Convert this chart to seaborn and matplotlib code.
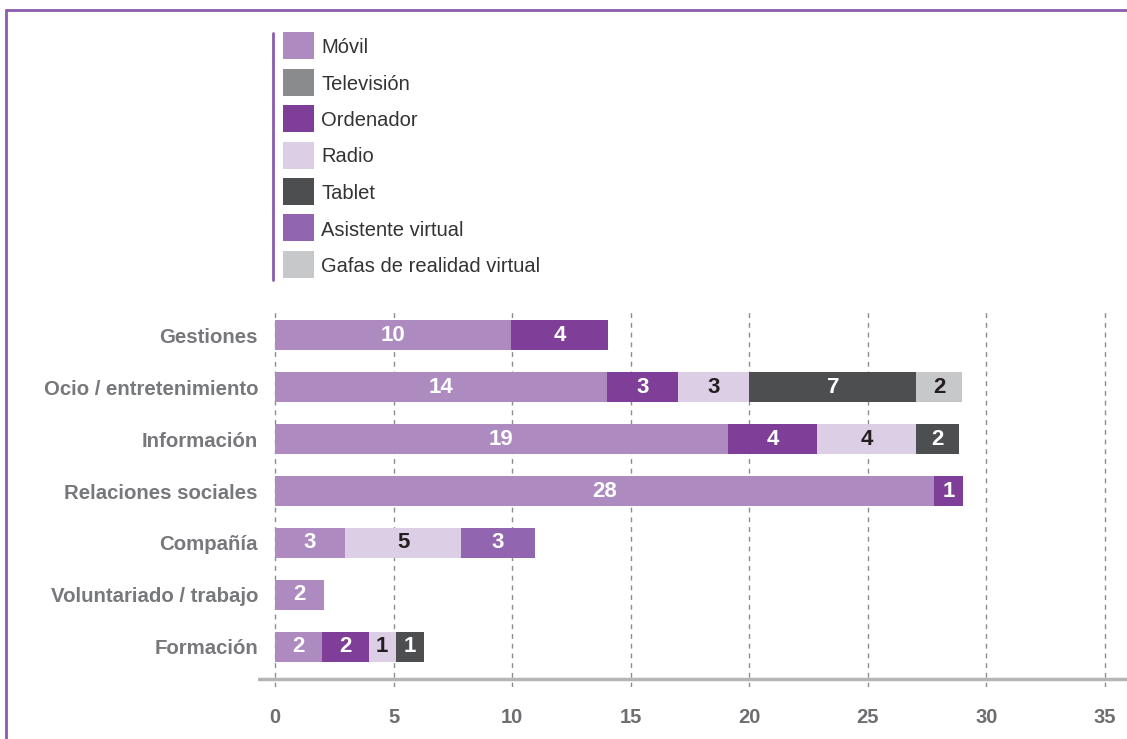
import numpy as np
import pandas as pd
import matplotlib
matplotlib.use("Agg")
import matplotlib.pyplot as plt
from matplotlib.patches import Rectangle
from matplotlib.lines import Line2D
import seaborn as sns

sns.set_style("white")
plt.rcParams['font.family'] = ['Liberation Sans', 'DejaVu Sans']

categories = ['Gestiones', 'Ocio / entretenimiento', 'Información', 'Relaciones sociales',
              'Compañía', 'Voluntariado / trabajo', 'Formación']
series_names = ['Móvil', 'Televisión', 'Ordenador', 'Radio', 'Tablet',
                'Asistente virtual', 'Gafas de realidad virtual']
movil = [9.95, 14.0, 19.1, 27.8, 2.95, 2.05, 2.0]
television = [0, 0, 0, 0, 0, 0, 0]
ordenador = [4.1, 3.0, 3.75, 1.2, 0, 0, 1.95]
radio = [0, 3.0, 4.2, 0, 4.9, 0, 1.15]
tablet = [0, 7.05, 1.8, 0, 0, 0, 1.2]
gafas = [0, 1.9, 0, 0, 0, 0, 0]
asistente = [0, 0, 0, 0, 3.1, 0, 0]
xticks = [0, 5, 10, 15, 20, 25, 30, 35]

colors = {
    'Móvil': '#ad8bc0',
    'Televisión': '#8a8b8d',
    'Ordenador': '#7f3f98',
    'Radio': '#dccfe5',
    'Tablet': '#4d4e50',
    'Asistente virtual': '#9265b0',
    'Gafas de realidad virtual': '#c7c8ca',
}
text_colors = {
    'Móvil': 'white', 'Televisión': 'white', 'Ordenador': 'white', 'Radio': '#231f20',
    'Tablet': 'white', 'Asistente virtual': 'white', 'Gafas de realidad virtual': '#231f20',
}

# stacking order
stack = [('Móvil', movil), ('Ordenador', ordenador), ('Radio', radio), ('Tablet', tablet),
         ('Gafas de realidad virtual', gafas), ('Asistente virtual', asistente)]

W, H = 1127, 739
fig = plt.figure(figsize=(W / 100, H / 100), dpi=100)
fig.patch.set_facecolor('white')
ax = fig.add_axes([258 / W, 1 - 687 / H, (W - 258) / W, (687 - 310) / H])

cum = np.zeros(len(categories))
cums = []
for name, vals in stack:
    start = cum.copy()
    cum = cum + np.array(vals, dtype=float)
    cums.append((name, start, cum.copy(), vals))

ax.set_axisbelow(True)
for x in xticks:
    ax.axvline(x, color='#8d8d8d', lw=1.0, ls=(0, (3.5, 3.5)), zorder=0)

# draw from longest cumulative to shortest
for name, start, end, vals in reversed(cums):
    df = pd.DataFrame({'cat': categories, 'val': end})
    sns.barplot(data=df, x='val', y='cat', order=categories, orient='h',
                color=colors[name], saturation=1, width=0.58, linewidth=0,
                errorbar=None, ax=ax, zorder=2)

for name, start, end, vals in cums:
    for i, v in enumerate(vals):
        if v > 0:
            ax.text((start[i] + end[i]) / 2, i, f"{v:.0f}", ha='center', va='center',
                    fontsize=16, fontweight='bold', color=text_colors[name], zorder=5)

ax.set_xlim(-17 / 23.714, (W - 275) / 23.714)
ax.set_ylim(6 + 40 / 52, -25 / 52)
ax.axhline(6 + 32 / 52, color='#b5b5b7', lw=2.5, zorder=3)
for s in ax.spines.values():
    s.set_visible(False)
ax.set_xlabel('')
ax.set_ylabel('')
ax.set_xticks(xticks)
ax.set_xticklabels([str(t) for t in xticks], fontsize=14.5, fontweight='bold', color='#6d6e71')
ax.set_yticks(range(len(categories)))
ax.set_yticklabels(categories, fontsize=14.7, fontweight='bold', color='#77787b')
ax.tick_params(axis='x', length=0, pad=15)
ax.tick_params(axis='y', length=0, pad=0)
ax.grid(False)

# legend (manual)
for i, n in enumerate(series_names):
    top = 32 + i * 36.5
    fig.add_artist(Rectangle((283 / W, 1 - (top + 27) / H), 31 / W, 27 / H,
                             transform=fig.transFigure, facecolor=colors[n],
                             edgecolor='none'))
    fig.text(321 / W, 1 - (top + 13.5) / H, n, ha='left', va='center_baseline',
             fontsize=14.5, color='#333333')

# decorative lines
fig.add_artist(Line2D([272.5 / W, 272.5 / W], [1 - 33 / H, 1 - 280 / H],
                      transform=fig.transFigure, color='#8a5db0', lw=2))
fig.add_artist(Line2D([6 / W, 1], [1 - 10 / H, 1 - 10 / H],
                      transform=fig.transFigure, color='#8a5db0', lw=2))
fig.add_artist(Line2D([6 / W, 6 / W], [0, 1 - 10 / H],
                      transform=fig.transFigure, color='#8a5db0', lw=2))

fig.savefig('out.png', dpi=100, facecolor='white')
